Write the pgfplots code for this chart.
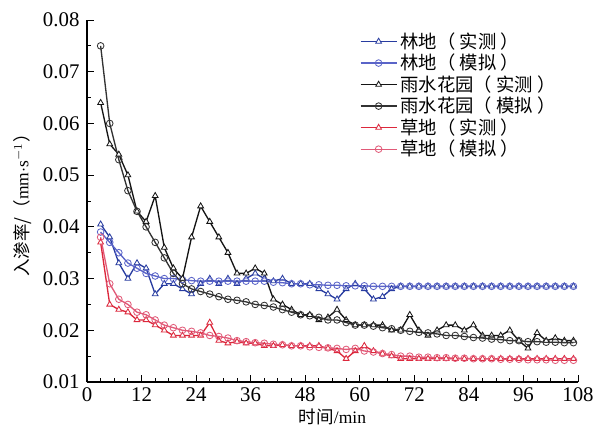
\documentclass[border=0pt]{standalone}
\usepackage{fontspec}
\setmainfont{Liberation Serif}
\newfontfamily\cjk{Noto Sans CJK SC}
\usepackage{pgfplots}
\usepackage{pgfplotstable}
\pgfplotsset{compat=1.18}
\definecolor{bm}{RGB}{40,60,160}
\definecolor{bs}{RGB}{90,100,200}
\definecolor{km}{RGB}{20,20,20}
\definecolor{ks}{RGB}{50,50,50}
\definecolor{rm}{RGB}{220,40,60}
\definecolor{rs}{RGB}{225,90,120}
\pgfplotstableread{
x bm bs km ks rm rs
3 0.0405 0.039 0.064 0.075 0.037 0.038
5 0.038 0.037 0.056 0.060 0.025 0.029
7 0.033 0.035 0.054 0.053 0.024 0.026
9 0.030 0.033 0.050 0.047 0.0235 0.025
11 0.033 0.032 0.043 0.043 0.022 0.0235
13 0.032 0.031 0.041 0.040 0.022 0.023
15 0.027 0.0305 0.046 0.037 0.021 0.022
17 0.029 0.030 0.036 0.034 0.020 0.021
19 0.029 0.030 0.032 0.031 0.019 0.0205
21 0.028 0.0298 0.030 0.029 0.019 0.020
23 0.027 0.0296 0.038 0.028 0.019 0.0198
25 0.029 0.0295 0.044 0.0275 0.019 0.0195
27 0.030 0.0295 0.041 0.027 0.0215 0.019
29 0.029 0.0295 0.038 0.0265 0.018 0.0188
31 0.030 0.0295 0.035 0.026 0.0175 0.0185
33 0.029 0.0295 0.031 0.0258 0.0178 0.018
35 0.030 0.0295 0.031 0.0255 0.0175 0.0178
37 0.031 0.0295 0.032 0.025 0.0175 0.0176
39 0.030 0.0295 0.031 0.0248 0.017 0.0175
41 0.0295 0.0293 0.026 0.0245 0.017 0.0173
43 0.030 0.0292 0.025 0.024 0.0172 0.0172
45 0.029 0.029 0.024 0.0235 0.017 0.017
47 0.029 0.029 0.023 0.023 0.017 0.017
49 0.029 0.0288 0.023 0.0228 0.017 0.0168
51 0.028 0.0288 0.022 0.0225 0.017 0.0167
53 0.027 0.0287 0.0225 0.022 0.0165 0.0166
55 0.026 0.0287 0.024 0.022 0.016 0.0165
57 0.028 0.0286 0.022 0.0215 0.0145 0.0163
59 0.029 0.0286 0.021 0.021 0.016 0.0165
61 0.028 0.0286 0.021 0.021 0.017 0.016
63 0.026 0.0285 0.021 0.0208 0.016 0.0158
65 0.0265 0.0285 0.021 0.0205 0.0155 0.0155
67 0.028 0.0285 0.020 0.0203 0.015 0.0153
69 0.0285 0.0285 0.020 0.020 0.0145 0.015
71 0.0285 0.0285 0.023 0.0198 0.0145 0.015
73 0.0285 0.0285 0.020 0.0196 0.0145 0.0148
75 0.0285 0.0285 0.019 0.0195 0.0145 0.0148
77 0.0285 0.0285 0.020 0.0193 0.0145 0.0147
79 0.0285 0.0285 0.021 0.019 0.0145 0.0147
81 0.0285 0.0285 0.021 0.019 0.0145 0.0146
83 0.0285 0.0285 0.020 0.0188 0.0145 0.0146
85 0.0285 0.0285 0.021 0.0186 0.0145 0.0145
87 0.0285 0.0285 0.019 0.0185 0.0145 0.0145
89 0.0285 0.0285 0.019 0.0183 0.0145 0.0145
91 0.0285 0.0285 0.019 0.0182 0.0145 0.0144
93 0.0285 0.0285 0.020 0.018 0.0145 0.0144
95 0.0285 0.0285 0.018 0.018 0.0145 0.0144
97 0.0285 0.0285 0.0165 0.0178 0.0145 0.0143
99 0.0285 0.0285 0.0195 0.0178 0.0145 0.0143
101 0.0285 0.0285 0.018 0.0177 0.0145 0.0143
103 0.0285 0.0285 0.0185 0.0177 0.0145 0.0142
105 0.0285 0.0285 0.018 0.0176 0.0145 0.0142
107 0.0285 0.0285 0.018 0.0176 0.0145 0.0142
}\data
\begin{document}
\begin{tikzpicture}
\begin{axis}[
  at={(0,0)}, anchor=origin,
  scale only axis, width=294.6pt, height=217.2pt,
  xmin=0, xmax=108, ymin=0.01, ymax=0.08,
  xtick={0,12,...,108}, minor x tick num=3,
  ytick={0.01,0.02,...,0.08}, minor y tick num=1,
  axis x line*=bottom, axis y line*=left,
  tick align=inside,
  major tick length=4pt, minor tick length=2.5pt,
  tick style={black, line width=0.6pt},
  axis line style={black, line width=0.8pt},
  /pgf/number format/assume math mode=true,
  yticklabel style={/pgf/number format/fixed, /pgf/number format/precision=2, /pgf/number format/fixed zerofill, xshift=-1pt},
  scaled y ticks=false,
  tick label style={font=\fontsize{12.5}{13}\selectfont},
  xlabel={{\cjk 时间}/min},
  ylabel={{\cjk 入渗率/（}mm$\cdot$s$^{-1}${\cjk ）}},
  label style={font=\fontsize{10.5}{12}\selectfont},
  xlabel style={yshift=3pt},
  ylabel style={yshift=0pt},
  legend style={draw=none, fill=none, at={(0.545,0.985)}, anchor=north west,
    font=\fontsize{11}{12}\selectfont, row sep=-2pt, cells={anchor=west}},
  legend cell align=left,
  legend image code/.code={\draw[mark repeat=2,mark phase=2] plot coordinates {(0cm,0cm) (0.38cm,0cm) (0.76cm,0cm)};},
  every axis plot/.append style={line width=0.8pt, mark size=2pt, mark options={fill=white, solid, line width=0.5pt}},
]
\addplot[color=bm, mark=triangle*] table[x=x,y=bm]{\data};
\addlegendentry{\cjk 林地（ 实测 ）}
\addplot[color=bs, mark=o] table[x=x,y=bs]{\data};
\addlegendentry{\cjk 林地（ 模拟 ）}
\addplot[color=km, mark=triangle*] table[x=x,y=km]{\data};
\addlegendentry{\cjk 雨水花园（ 实测 ）}
\addplot[color=ks, mark=o] table[x=x,y=ks]{\data};
\addlegendentry{\cjk 雨水花园（ 模拟 ）}
\addplot[color=rm, mark=triangle*] table[x=x,y=rm]{\data};
\addlegendentry{\cjk 草地（ 实测 ）}
\addplot[color=rs, mark=o] table[x=x,y=rs]{\data};
\addlegendentry{\cjk 草地（ 模拟 ）}
\end{axis}
\pgfresetboundingbox
\useasboundingbox (-52.2pt,-28.2pt) rectangle (309.6pt,229.2pt);
\end{tikzpicture}
\end{document}
